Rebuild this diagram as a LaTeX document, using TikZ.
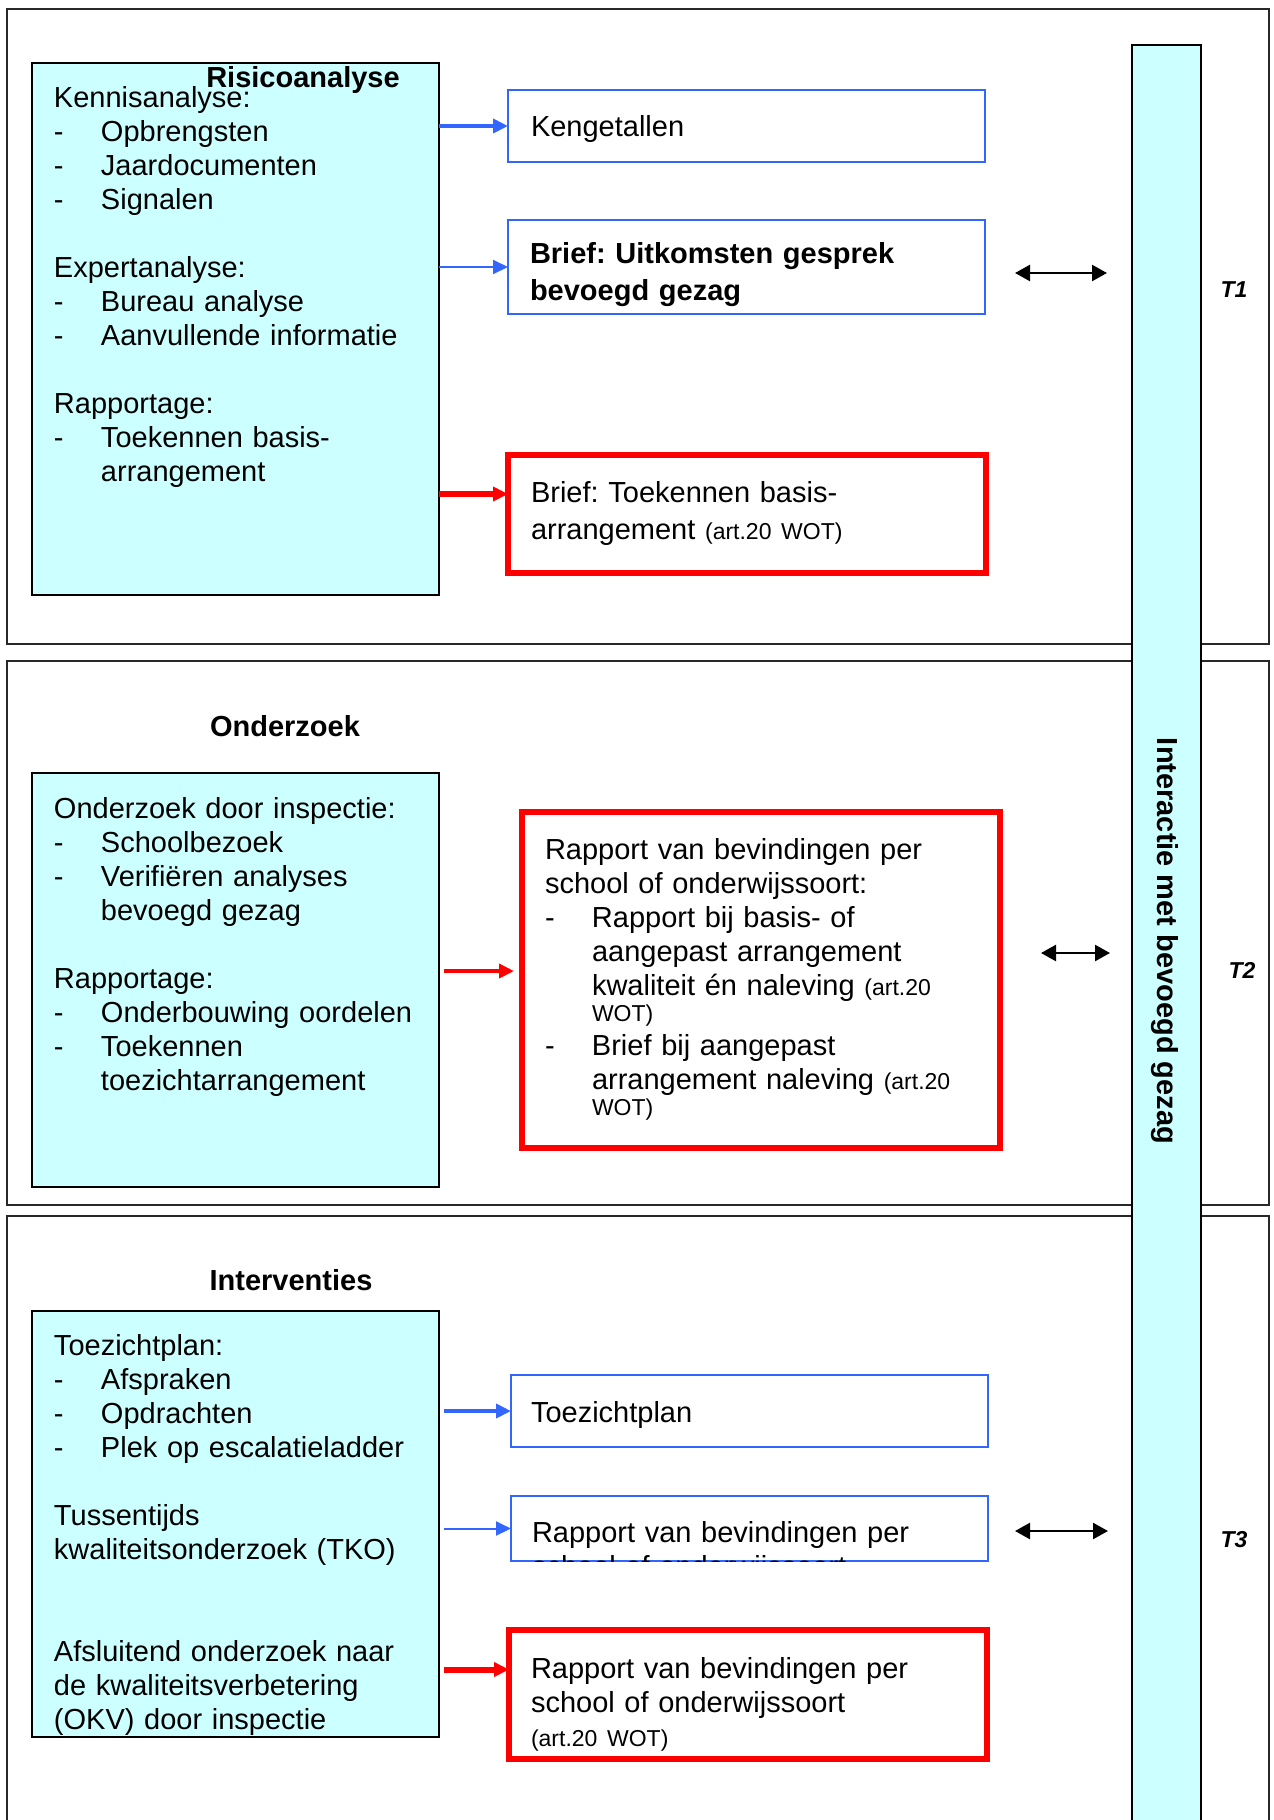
\documentclass[tikz,border=0pt]{standalone}
\usepackage{fontspec}
\setmainfont{Liberation Sans}
\usetikzlibrary{arrows.meta}

\definecolor{lichtcyaan}{RGB}{204,255,255}
\definecolor{kaderblauw}{RGB}{51,102,255}
\definecolor{kaderrood}{RGB}{255,0,0}
\definecolor{randgrijs}{RGB}{40,40,40}

\newlength{\itemind}
\setlength{\itemind}{23.5pt}
\newcommand{\streep}[1]{\makebox[\itemind][l]{-}#1}
\newcommand{\verder}[1]{\hspace*{\itemind}#1}
\newcommand{\wot}[1]{{\fontsize{11.5}{14}\selectfont #1}}

\begin{document}
\frenchspacing
\begin{tikzpicture}[x=0.5pt, y=-0.5pt, >={Triangle[length=7.5pt, width=7pt]},
  font=\fontsize{14.5}{17}\selectfont,
  every node/.style={outer sep=0pt},
  paneel/.style={draw=randgrijs, line width=0.8pt, minimum width=631pt, anchor=north west, inner sep=0pt},
  linkerkader/.style={draw=black, line width=0.8pt, fill=lichtcyaan, minimum width=203.5pt, anchor=north west, inner sep=0pt},
  lijsttekst/.style={text width=215pt, align=left, inner sep=0pt, anchor=base west},
  titel/.style={font=\fontsize{14.5}{17}\selectfont\bfseries, inner sep=0pt, anchor=base},
  blauwkader/.style={draw=kaderblauw, line width=0.7pt, fill=white, anchor=north west, inner sep=0pt, minimum width=238.5pt},
  roodkader/.style={draw=kaderrood, line width=2.6pt, fill=white, anchor=north west, inner sep=0pt, minimum width=239pt},
  balk/.style={draw=black, line width=0.8pt, fill=lichtcyaan, minimum width=34.5pt, anchor=north west, inner sep=0pt},
  tlabel/.style={font=\fontsize{11.5}{14}\selectfont\bfseries\itshape, inner sep=0pt},
  pijlblauwdik/.style={draw=kaderblauw, line width=2.2pt, ->},
  pijlblauwdun/.style={draw=kaderblauw, line width=1pt, ->},
  pijlrooddik/.style={draw=kaderrood, line width=3pt, ->},
  pijlrood/.style={draw=kaderrood, line width=2pt, ->},
  wisselpijl/.style={draw=black, line width=1.2pt, {Triangle[length=7.5pt, width=8pt]}-{Triangle[length=7.5pt, width=8pt]}}]

\useasboundingbox (0,0) rectangle (1274,1820);
\clip (0,0) rectangle (1274,1820);

% === Panelen ===
\node[paneel, minimum height=317.5pt] (Paneel-1) at (7,9) {};
\node[paneel, minimum height=272pt] (Paneel-2) at (7,661) {};
\node[paneel, minimum height=307pt] (Paneel-3) at (7,1216) {};

% === Balk ===
\node[balk, minimum height=892.5pt] (Balk) at (1132,45) {};
\node[rotate=-90, font=\fontsize{14.5}{17}\selectfont\bfseries] (BalkTekst) at (1165,941) {Interactie met bevoegd gezag};

% === Linkerkolom ===
\node[linkerkader, minimum height=266pt] (Risico) at (32,63) {};
\node[lijsttekst, text width=185pt] (RisicoTekst) at (54,107) {Kennisanalyse:\\
  \streep{Opbrengsten}\\
  \streep{Jaardocumenten}\\
  \streep{Signalen}\\[17pt]
  Expertanalyse:\\
  \streep{Bureau analyse}\\
  \streep{Aanvullende informatie}\\[17pt]
  Rapportage:\\
  \streep{Toekennen basis-}\\
  \verder{arrangement}};
\node[titel] (RisicoTitel) at (303,87) {Risicoanalyse};

\node[titel] (OnderzoekTitel) at (285,736) {Onderzoek};
\node[linkerkader, minimum height=207pt] (Onderzoek) at (32,773) {};
\node[lijsttekst, text width=185pt] (OnderzoekTekst) at (54,818) {Onderzoek door inspectie:\\
  \streep{Schoolbezoek}\\
  \streep{Verifiëren analyses}\\
  \verder{bevoegd gezag}\\[17pt]
  Rapportage:\\
  \streep{Onderbouwing oordelen}\\
  \streep{Toekennen}\\
  \verder{toezichtarrangement}};

\node[titel] (InterventiesTitel) at (291,1290) {Interventies};
\node[linkerkader, minimum height=213pt] (Interventies) at (32,1311) {};
\node[lijsttekst, text width=185pt] (InterventiesTekst) at (54,1355) {Toezichtplan:\\
  \streep{Afspraken}\\
  \streep{Opdrachten}\\
  \streep{Plek op escalatieladder}\\[17pt]
  Tussentijds\\
  kwaliteitsonderzoek (TKO)\\[34pt]
  Afsluitend onderzoek naar\\
  de kwaliteitsverbetering\\
  (OKV) door inspectie};

% === Rechterkolom ===
\node[blauwkader, minimum height=36pt] (Kengetallen) at (508,90) {};
\node[lijsttekst] (Kengetallen-tekst) at (531,136) {Kengetallen};

\node[blauwkader, minimum height=47pt] (Uitkomsten) at (508,220) {};
\node[lijsttekst, font=\fontsize{14.5}{18.5}\selectfont\bfseries] (Uitkomsten-tekst) at (530,263) {Brief: Uitkomsten gesprek\\bevoegd gezag};

\node[roodkader, minimum height=59pt] (BriefBasis) at (508,455) {};
\node[lijsttekst, font=\fontsize{14.5}{18.5}\selectfont] (BriefBasis-tekst) at (531,502) {Brief: Toekennen basis-\\arrangement \wot{(art.20 WOT)}};

\node[roodkader, minimum height=168pt] (RapportT2) at (522,812) {};
\node[lijsttekst] (RapportT2-tekst) at (545,859) {Rapport van bevindingen per\\
  school of onderwijssoort:\\
  \streep{Rapport bij basis- of}\\
  \verder{aangepast arrangement}\\
  \verder{kwaliteit én naleving \wot{(art.20}}\\[-4pt]
  \verder{\wot{WOT)}}\\
  \streep{Brief bij aangepast}\\
  \verder{arrangement naleving \wot{(art.20}}\\[-4pt]
  \verder{\wot{WOT)}}};

\node[blauwkader, minimum height=36pt] (Toezichtplan) at (511,1375) {};
\node[lijsttekst] (Toezichtplan-tekst) at (531,1422) {Toezichtplan};

\node[blauwkader, minimum height=32.5pt] (RapportBlauw) at (511,1496) {};
\begin{scope}
  \clip (RapportBlauw.north west) rectangle (RapportBlauw.south east);
  \node[lijsttekst] (RapportBlauw-tekst) at (532,1542) {Rapport van bevindingen per\\school of onderwijssoort};
\end{scope}

\node[roodkader, minimum height=64.5pt] (RapportRood) at (509,1630) {};
\node[lijsttekst] (RapportRood-tekst) at (531,1678) {Rapport van bevindingen per\\
  school of onderwijssoort\\
  \wot{(art.20 WOT)}};

% === Verbindingen ===
\coordinate (BriefBasis-in) at ([yshift=10pt]BriefBasis.west);
\coordinate (RapportT2-in) at ([yshift=4.5pt]RapportT2.west);
\coordinate (RapportRood-in) at ([yshift=12.5pt]RapportRood.west);

\draw[pijlblauwdik] (Risico.east |- Kengetallen.west) -- (Kengetallen.west);
\draw[pijlblauwdun] (Risico.east |- Uitkomsten.west) -- (Uitkomsten.west);
\draw[pijlrooddik] (Risico.east |- BriefBasis-in) -- (BriefBasis-in);

\draw[pijlrood, shorten <=2.5pt, shorten >=4pt] (Onderzoek.east |- RapportT2-in) -- (RapportT2-in);

\draw[pijlblauwdik, shorten <=2.5pt] (Interventies.east |- Toezichtplan.west) -- (Toezichtplan.west);
\draw[pijlblauwdun, shorten <=2.5pt] (Interventies.east |- RapportBlauw.west) -- (RapportBlauw.west);
\draw[pijlrooddik, shorten <=2.5pt] (Interventies.east |- RapportRood-in) -- (RapportRood-in);

% === Wisselpijlen ===
\foreach \n/\xa/\xb/\y in {1/1015/1107/273, 2/1041/1110/953, 3/1015/1108/1531}{
  \coordinate (Wissel-\n-a) at (\xa,\y);
  \coordinate (Wissel-\n-b) at (\xb,\y);
  \draw[wisselpijl] (Wissel-\n-a) -- (Wissel-\n-b);
}

% === Tijdvakken ===
\foreach \n/\x/\y in {1/1234/290, 2/1242/970, 3/1234/1540}{
  \node[tlabel] (T-\n) at (\x,\y) {T\n};
}
\end{tikzpicture}
\end{document}
